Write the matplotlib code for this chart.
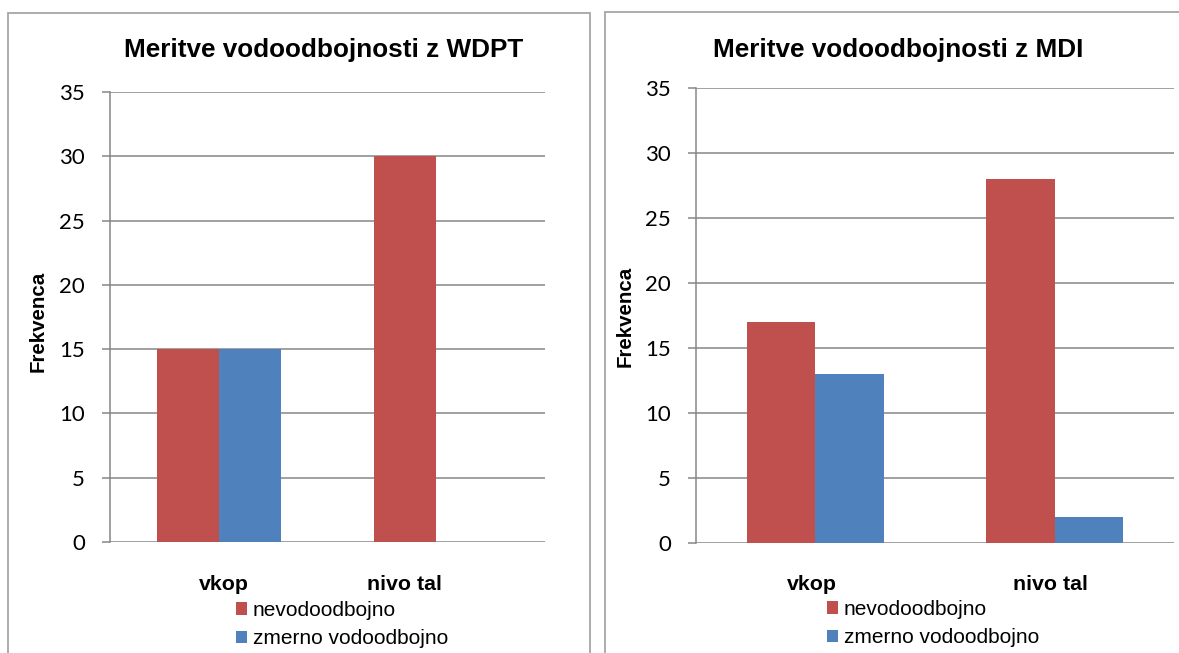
import matplotlib
matplotlib.use('Agg')
import matplotlib.pyplot as plt
import numpy as np
from matplotlib.patches import Rectangle
from matplotlib.transforms import blended_transform_factory, ScaledTranslation

"""DATA"""
categories = ['vkop', 'nivo tal']
series_names = ['nevodoodbojno', 'zmerno vodoodbojno']
wdpt_nevodo = [15, 30]
wdpt_zmerno = [15, 0]
mdi_nevodo = [17, 28]
mdi_zmerno = [13, 2]
titles = ['Meritve vodoodbojnosti z WDPT', 'Meritve vodoodbojnosti z MDI']
ylabel = 'Frekvenca'
yticks = [0, 5, 10, 15, 20, 25, 30, 35]

"""STYLE"""
W, H = 1179, 653
RED = '#C0504D'
BLUE = '#4F81BD'
GRID = '#868686'
BORDER = '#A6A6A6'
TXT = 'Liberation Sans'
NUM = 'Lato'
BAR_W = 0.286

def fx(x):
    return x / W

def fy(y):
    return 1 - y / H

fig = plt.figure(figsize=(W / 100, H / 100), dpi=100)

# panel borders (pixel layout of the two chart objects)
fig.patches.append(Rectangle((fx(8), fy(700)), fx(590 - 8), (700 - 13) / H,
                             transform=fig.transFigure, fill=False,
                             edgecolor=BORDER, linewidth=1.3))
fig.patches.append(Rectangle((fx(605), fy(700)), fx(1200 - 605), (700 - 12) / H,
                             transform=fig.transFigure, fill=False,
                             edgecolor=BORDER, linewidth=1.3))

# per panel layout: axes box (x0, x1, ytop, ybottom), title centre, ylabel x, legend anchor, label offsets
panels = [
    dict(box=(110, 545, 92, 542), title_x=324, ylab=(38, 321), leg=(236, 601),
         label_dx=[5, -32], values=(wdpt_nevodo, wdpt_zmerno), title=titles[0]),
    dict(box=(696, 1174, 88, 543), title_x=898, ylab=(625, 316), leg=(827, 600),
         label_dx=[-4, -4], values=(mdi_nevodo, mdi_zmerno), title=titles[1]),
]

for p in panels:
    x0, x1, yt, yb = p['box']
    ax = fig.add_axes([fx(x0), fy(yb), fx(x1 - x0), (yb - yt) / H])
    x = np.arange(len(categories))
    nev, zme = p['values']
    b1 = ax.bar(x - BAR_W / 2, nev, width=BAR_W, color=RED, edgecolor='none',
                label=series_names[0], zorder=3)
    b2 = ax.bar(x + BAR_W / 2, zme, width=BAR_W, color=BLUE, edgecolor='none',
                label=series_names[1], zorder=3)
    ax.set_xlim(-0.5, len(categories) - 0.5)
    ax.set_ylim(0, 35)
    ax.set_yticks(yticks)
    ax.yaxis.grid(True, color=GRID, linewidth=1.1, zorder=0)
    ax.set_axisbelow(True)
    for s in ['top', 'right', 'bottom']:
        ax.spines[s].set_visible(False)
    ax.spines['left'].set_color(GRID)
    ax.spines['left'].set_linewidth(1.1)
    ax.tick_params(axis='y', length=6, width=1.1, color=GRID, pad=12,
                   labelsize=16)
    for lab in ax.get_yticklabels():
        lab.set_fontfamily(NUM)
    ax.set_xticks([])
    # category labels under the groups
    tr = blended_transform_factory(ax.transData, ax.transAxes)
    yl = -(584 - yb) / (yb - yt)
    for i, c in enumerate(categories):
        off = ScaledTranslation(p['label_dx'][i] / 100, 0, fig.dpi_scale_trans)
        ax.text(x[i], yl, c, transform=tr + off, ha='center', va='center',
                fontsize=15.4, fontweight='bold', fontfamily=TXT)
    fig.text(fx(p['title_x']), fy(57), p['title'], ha='center', va='baseline',
             fontsize=18.8, fontweight='bold', fontfamily=TXT)
    fig.text(fx(p['ylab'][0]), fy(p['ylab'][1]), ylabel, rotation=90,
             ha='center', va='center', fontsize=14.8, fontweight='bold',
             fontfamily=TXT)
    ax.legend(handles=[b1, b2], loc='upper left',
              bbox_to_anchor=(fx(p['leg'][0]), fy(p['leg'][1])),
              bbox_transform=fig.transFigure, frameon=False, borderpad=0,
              borderaxespad=0, handlelength=0.55, handleheight=0.55,
              handletextpad=0.25, labelspacing=0.45,
              prop={'family': TXT, 'size': 15})

fig.savefig('out.png', dpi=100)
